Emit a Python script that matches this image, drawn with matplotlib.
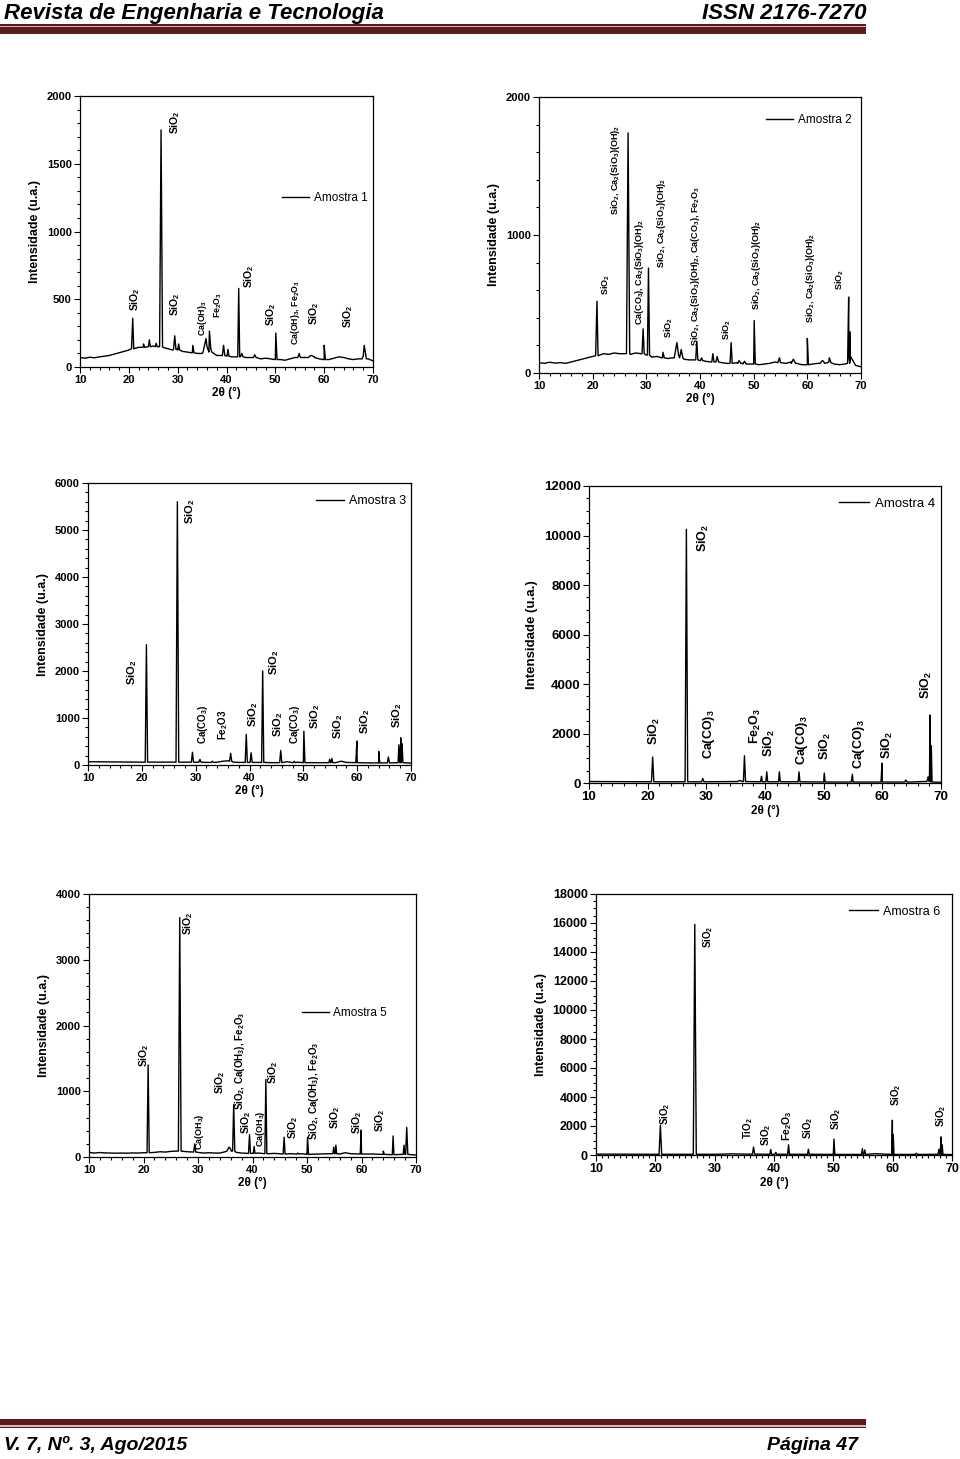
import matplotlib
matplotlib.use("Agg")
import matplotlib.pyplot as plt
from matplotlib.patches import Rectangle
from matplotlib.ticker import MultipleLocator
import numpy as np

plt.rcParams['font.family'] = ['Liberation Sans', 'DejaVu Sans']
plt.rcParams['mathtext.fontset'] = 'custom'
plt.rcParams['mathtext.rm'] = 'Liberation Sans:bold'
plt.rcParams['mathtext.bf'] = 'Liberation Sans:bold'
plt.rcParams['mathtext.it'] = 'Liberation Sans:bold:italic'
plt.rcParams['mathtext.default'] = 'rm'

# ---------------- dados lidos dos difratogramas ----------------
# linha de base (2theta, intensidade) e picos (posição, altura, base, meia largura)

a1_base_x = list(range(10, 71))
a1_base_y = [70, 65, 72, 68, 75, 80, 85, 95, 105, 115, 125, 135, 145, 150, 150, 155,
             150, 145, 135, 125, 130, 115, 110, 105, 100, 100, 150, 110, 85, 85, 80,
             75, 75, 85, 70, 70, 75, 60, 65, 60, 55, 55, 50, 60, 70, 80, 70, 80, 75,
             60, 55, 55, 65, 75, 70, 60, 55, 60, 80, 60, 45]
a1_picos = [(20.8, 360, 135, 0.25), (23.0, 170, 145, 0.2), (24.2, 200, 150, 0.2),
            (25.6, 175, 150, 0.2), (26.6, 1750, 150, 0.3), (29.4, 230, 130, 0.25),
            (30.2, 170, 125, 0.2), (33.1, 160, 105, 0.25), (35.8, 210, 110, 0.6),
            (36.5, 265, 130, 0.3), (39.4, 160, 85, 0.25), (40.3, 130, 80, 0.2),
            (42.5, 580, 75, 0.2), (43.1, 100, 75, 0.3), (45.8, 90, 70, 0.3),
            (50.1, 250, 55, 0.25), (54.9, 100, 70, 0.3), (57.4, 85, 70, 0.6),
            (60.0, 160, 55, 0.25), (68.2, 160, 60, 0.45)]

a2_base_x = list(range(10, 71))
a2_base_y = [75, 70, 78, 72, 75, 70, 80, 90, 100, 110, 120, 130, 140, 135, 145, 140,
             140, 135, 145, 140, 130, 115, 120, 110, 105, 110, 130, 100, 95, 95, 90,
             85, 80, 85, 75, 70, 70, 75, 70, 65, 65, 60, 65, 70, 80, 75, 70, 80, 70,
             60, 60, 65, 70, 85, 80, 65, 60, 65, 90, 55, 45]
a2_picos = [(20.8, 520, 125, 0.25), (26.6, 1740, 140, 0.3), (29.4, 320, 140, 0.2),
            (30.4, 760, 130, 0.2), (33.1, 150, 110, 0.25), (35.7, 220, 110, 0.5),
            (36.5, 170, 110, 0.3), (39.4, 230, 95, 0.2), (40.3, 110, 90, 0.2),
            (42.4, 140, 80, 0.2), (43.2, 120, 80, 0.25), (45.8, 220, 70, 0.2),
            (47.3, 90, 70, 0.3), (48.3, 85, 65, 0.3), (50.1, 380, 65, 0.2),
            (54.8, 110, 75, 0.3), (57.4, 100, 70, 0.4), (60.0, 250, 60, 0.2),
            (62.8, 90, 70, 0.4), (64.1, 110, 75, 0.3), (67.7, 550, 70, 0.2),
            (67.9, 300, 120, 0.15)]

a3_base_x = [10, 12, 14, 16, 18, 20, 22, 24, 25, 26, 28, 30, 32, 34, 35, 36, 37, 38,
             40, 42, 44, 46, 47, 48, 49, 50, 52, 54, 56, 57, 58, 60, 62, 64, 66, 68, 70]
a3_base_y = [70, 68, 66, 64, 62, 60, 62, 60, 62, 60, 60, 58, 55, 60, 80, 90, 60, 55,
             55, 55, 50, 50, 70, 50, 60, 50, 50, 50, 50, 80, 55, 50, 45, 45, 45, 50, 40]
a3_picos = [(20.85, 2560, 60, 0.22), (26.6, 5600, 60, 0.25), (29.4, 270, 60, 0.2),
            (30.8, 120, 60, 0.2), (33.1, 80, 55, 0.2), (36.5, 250, 80, 0.2),
            (39.4, 650, 55, 0.2), (40.3, 260, 55, 0.2), (42.45, 2000, 55, 0.2),
            (45.8, 310, 50, 0.2), (48.3, 80, 50, 0.2), (50.1, 720, 50, 0.2),
            (54.9, 120, 50, 0.15), (55.3, 140, 50, 0.15), (59.95, 510, 50, 0.2),
            (64.0, 290, 45, 0.2), (65.8, 170, 45, 0.2), (67.75, 430, 50, 0.15),
            (68.1, 580, 150, 0.15), (68.35, 450, 50, 0.15)]

a4_base_x = [10, 15, 20, 25, 30, 35, 36, 40, 45, 50, 55, 60, 65, 67, 70]
a4_base_y = [60, 55, 50, 50, 50, 60, 80, 50, 50, 40, 40, 40, 40, 60, 30]
a4_picos = [(20.85, 1050, 50, 0.2), (26.6, 10250, 50, 0.22), (29.4, 180, 50, 0.2),
            (35.7, 100, 60, 0.4), (36.5, 1100, 60, 0.18), (39.4, 270, 50, 0.15),
            (40.3, 450, 50, 0.15), (42.45, 450, 50, 0.15), (45.8, 450, 50, 0.15),
            (50.1, 400, 40, 0.15), (54.9, 350, 40, 0.2), (59.95, 800, 40, 0.18),
            (64.0, 120, 40, 0.2), (67.8, 250, 60, 0.2), (68.15, 2750, 100, 0.12),
            (68.35, 1500, 40, 0.12)]

a5_base_x = [10, 11, 12, 13, 14, 15, 16, 17, 18, 19, 20, 22, 23, 24, 25, 26, 28, 30,
             31, 32, 33, 34, 35, 36, 37, 38, 40, 41, 43, 44, 46, 47, 48, 49, 50, 52,
             54, 56, 57, 58, 60, 62, 64, 66, 68, 70]
a5_base_y = [70, 60, 68, 62, 60, 58, 60, 58, 62, 60, 65, 70, 80, 75, 85, 90, 80, 70,
             60, 65, 60, 60, 80, 120, 70, 60, 55, 60, 50, 55, 45, 50, 45, 50, 40, 45,
             50, 45, 65, 50, 45, 45, 40, 35, 40, 30]
a5_picos = [(20.85, 1400, 65, 0.2), (26.65, 3640, 90, 0.25), (29.4, 200, 75, 0.2),
            (35.7, 150, 90, 0.4), (36.55, 800, 90, 0.2), (39.45, 340, 55, 0.18),
            (40.3, 160, 55, 0.15), (42.45, 1180, 50, 0.18), (45.8, 300, 45, 0.18),
            (48.3, 60, 45, 0.2), (50.1, 300, 40, 0.18), (54.9, 150, 50, 0.15),
            (55.3, 180, 50, 0.15), (59.95, 410, 45, 0.18), (64.0, 90, 40, 0.2),
            (65.8, 320, 35, 0.15), (67.8, 180, 40, 0.15), (68.3, 450, 40, 0.2)]

a6_base_x = [10, 15, 20, 25, 30, 33, 35, 40, 45, 50, 55, 57, 60, 65, 70]
a6_base_y = [60, 55, 50, 50, 50, 80, 60, 50, 50, 40, 40, 90, 40, 40, 30]
a6_picos = [(20.85, 2050, 50, 0.22), (26.65, 15900, 50, 0.25), (36.55, 550, 60, 0.18),
            (39.45, 380, 50, 0.15), (40.3, 180, 50, 0.15), (42.45, 700, 50, 0.15),
            (45.8, 400, 50, 0.15), (50.1, 1100, 40, 0.15), (54.9, 450, 40, 0.15),
            (55.3, 350, 40, 0.15), (59.95, 2400, 40, 0.12), (60.1, 1400, 40, 0.12),
            (64.0, 120, 40, 0.2), (67.8, 400, 50, 0.15), (68.15, 1250, 50, 0.12),
            (68.35, 700, 40, 0.12)]

S = 'SiO$_2$'
CS = 'SiO$_2$, Ca$_2$(SiO$_3$)(OH)$_2$'
# anotações das fases: (texto, 2theta, intensidade na base do texto, tamanho)
a1_fases = [(S, 21.2, 410, 7.5), (S, 29.4, 1723, 7.5), (S, 29.5, 373, 7.5),
            ('Ca(OH)$_3$', 35.1, 226, 6.3), ('Fe$_2$O$_3$', 38.4, 360, 6.3),
            (S, 44.6, 582, 7.5), (S, 49.1, 300, 7.5),
            ('Ca(OH)$_3$, Fe$_2$O$_3$', 54.2, 164, 6.3), (S, 57.9, 312, 7.5),
            (S, 65.0, 287, 7.5)]
a2_fases = [(S, 22.5, 568, 6.5), (CS, 24.3, 1147, 6.5),
            ('Ca(CO$_3$), Ca$_2$(SiO$_3$)(OH)$_2$', 28.7, 350, 6.5),
            (CS, 32.9, 761, 6.5), (S, 34.1, 254, 6.5),
            ('SiO$_2$, Ca$_2$(SiO$_3$)(OH)$_2$, Ca(CO$_3$), Fe$_2$O$_3$', 39.1, 193, 6.5),
            (S, 45.0, 237, 6.5), (CS, 50.6, 459, 6.5), (CS, 60.5, 362, 6.5),
            (S, 66.1, 599, 6.5)]
a3_fases = [(S, 18.1, 1695, 8), (S, 28.9, 5135, 8), ('Ca(CO$_3$)', 31.4, 454, 7),
            ('Fe$_2$O3', 35.1, 525, 7), (S, 40.7, 808, 8), (S, 44.6, 1908, 8),
            (S, 45.4, 596, 8), ('Ca(CO$_3$)', 48.5, 440, 7), (S, 52.2, 773, 8),
            (S, 56.5, 560, 8), (S, 61.5, 667, 8), (S, 67.4, 794, 8)]
a4_fases = [(S, 21.1, 1522, 9), (S, 29.5, 9333, 9), ('Ca(CO)$_3$', 30.4, 983, 9),
            ('Fe$_2$O$_3$', 38.3, 1589, 9), (S, 40.8, 1050, 9),
            ('Ca(CO)$_3$', 46.3, 714, 9), (S, 50.3, 916, 9),
            ('Ca(CO)$_3$', 56.0, 579, 9), (S, 60.8, 983, 9), (S, 67.6, 3407, 9)]
a5_fases = [(S, 20.2, 1371, 7.5), (S, 28.2, 3376, 7.5), ('Ca(OH$_3$)', 30.3, 101, 6.5),
            (S, 34.0, 964, 7.5), ('SiO$_2$, Ca(OH$_3$), Fe$_2$O$_3$', 37.7, 711, 7),
            (S, 38.9, 355, 7.5), ('Ca(OH$_3$)', 41.4, 152, 6.5), (S, 43.8, 1117, 7.5),
            (S, 47.5, 279, 7.5), ('SiO$_2$, Ca(OH$_3$), Fe$_2$O$_3$', 51.2, 254, 7),
            (S, 55.1, 431, 7.5), (S, 59.2, 355, 7.5), (S, 63.5, 380, 7.5)]
a6_fases = [(S, 21.6, 2089, 7), (S, 28.9, 14256, 7), ('TiO$_2$', 35.6, 1102, 7),
            (S, 38.7, 597, 7), ('Fe$_2$O$_3$', 42.2, 941, 7.5), (S, 45.7, 1102, 7),
            (S, 50.5, 1745, 7), (S, 60.6, 3398, 7), (S, 68.2, 1928, 7)]

nomes = ['Amostra 1', 'Amostra 2', 'Amostra 3', 'Amostra 4', 'Amostra 5', 'Amostra 6']
y_max = [2000, 2000, 6000, 12000, 4000, 18000]
y_major = [500, 1000, 1000, 2000, 1000, 2000]
y_minor = [100, 200, 200, 500, 200, 500]
x_minor = [2, 2, 2, 2, 2, 1]


def curva(base_x, base_y, picos):
    xs = list(base_x)
    ys = list(base_y)
    for pos, h, b, hw in picos:
        xs += [pos - hw, pos, pos + hw]
        ys += [b, h, b]
    ordem = np.argsort(xs, kind='stable')
    return np.array(xs, dtype=float)[ordem], np.array(ys, dtype=float)[ordem]


# ---------------- figura (página da revista) ----------------
W, H = 960, 1459
fig = plt.figure(figsize=(W / 100, H / 100), dpi=100)


def caixa(x0, y0, x1, y1):
    # pixels -> fração da figura
    return [x0 / W, 1 - y1 / H, (x1 - x0) / W, (y1 - y0) / H]


posicoes = [caixa(80, 96, 373, 367), caixa(539, 97, 861, 373),
            caixa(88, 483, 411, 765), caixa(589, 486, 941, 783),
            caixa(89, 894, 416, 1157), caixa(596, 894, 952, 1155)]
dados = [(a1_base_x, a1_base_y, a1_picos), (a2_base_x, a2_base_y, a2_picos),
         (a3_base_x, a3_base_y, a3_picos), (a4_base_x, a4_base_y, a4_picos),
         (a5_base_x, a5_base_y, a5_picos), (a6_base_x, a6_base_y, a6_picos)]
fases = [a1_fases, a2_fases, a3_fases, a4_fases, a5_fases, a6_fases]
leg_pos = [(0.69, 0.622), (0.705, 0.917), (0.705, 0.936), (0.71, 0.94),
           (0.65, 0.548), (0.71, 0.932)]
tick_fs = [8, 8, 8, 9.5, 8, 9]
ylab_fs = [9, 9, 9, 9.5, 9, 9]
leg_fs = [8.5, 8.5, 9, 9.5, 8.5, 9]

for i in range(6):
    ax = fig.add_axes(posicoes[i])
    x, y = curva(*dados[i])
    ax.plot(x, y, color='black', lw=1.0, label=nomes[i])
    ax.set_xlim(10, 70)
    ax.set_ylim(0, y_max[i])
    ax.xaxis.set_major_locator(MultipleLocator(10))
    ax.xaxis.set_minor_locator(MultipleLocator(x_minor[i]))
    ax.yaxis.set_major_locator(MultipleLocator(y_major[i]))
    ax.yaxis.set_minor_locator(MultipleLocator(y_minor[i]))
    ax.tick_params(which='both', direction='out', top=False, right=False,
                   labelsize=tick_fs[i], width=0.8, pad=2)
    ax.tick_params(which='major', length=4)
    ax.tick_params(which='minor', length=2)
    for lab in ax.get_xticklabels() + ax.get_yticklabels():
        lab.set_fontweight('bold')
    for sp in ax.spines.values():
        sp.set_linewidth(0.9)
    ax.set_ylabel('Intensidade (u.a.)', fontsize=ylab_fs[i], fontweight='bold', labelpad=4)
    ax.set_xlabel('2θ (°)', fontsize=8.5, fontweight='bold', labelpad=1)
    for txt, tx, ty, fs in fases[i]:
        ax.text(tx, ty, txt, rotation=90, ha='center', va='bottom',
                fontsize=fs, fontweight='bold')
    ax.legend(loc='center left', bbox_to_anchor=leg_pos[i], frameon=False,
              borderpad=0, borderaxespad=0, handlelength=2.3, handletextpad=0.4,
              fontsize=leg_fs[i])

# cabeçalho e rodapé
fam = ['Liberation Sans Narrow', 'Liberation Sans', 'DejaVu Sans']
fig.text(4 / W, 1 - 19 / H, 'Revista de Engenharia e Tecnologia', fontsize=16,
         fontweight='bold', style='italic', family=fam, ha='left', va='baseline')
fig.text(866 / W, 1 - 19 / H, 'ISSN 2176-7270', fontsize=16, fontweight='bold',
         style='italic', family=fam, ha='right', va='baseline')
fig.add_artist(Rectangle((0, 1 - 34 / H), 866 / W, 10 / H, transform=fig.transFigure,
                         color='#5a1c1c', lw=0))
fig.add_artist(Rectangle((0, 1 - 27 / H), 866 / W, 1.2 / H, transform=fig.transFigure,
                         color='#d8b4b4', lw=0))
fig.add_artist(Rectangle((0, 1 - 1428 / H), 866 / W, 9 / H, transform=fig.transFigure,
                         color='#5a1c1c', lw=0))
fig.add_artist(Rectangle((0, 1 - 1426.5 / H), 866 / W, 1.2 / H, transform=fig.transFigure,
                         color='#d8b4b4', lw=0))
fig.text(4 / W, 1 - 1450 / H, 'V. 7, Nº. 3, Ago/2015', fontsize=14, fontweight='bold',
         style='italic', family=fam, ha='left', va='baseline')
fig.text(858 / W, 1 - 1450 / H, 'Página 47', fontsize=14, fontweight='bold',
         style='italic', family=fam, ha='right', va='baseline')

fig.savefig('out.png', dpi=100)
